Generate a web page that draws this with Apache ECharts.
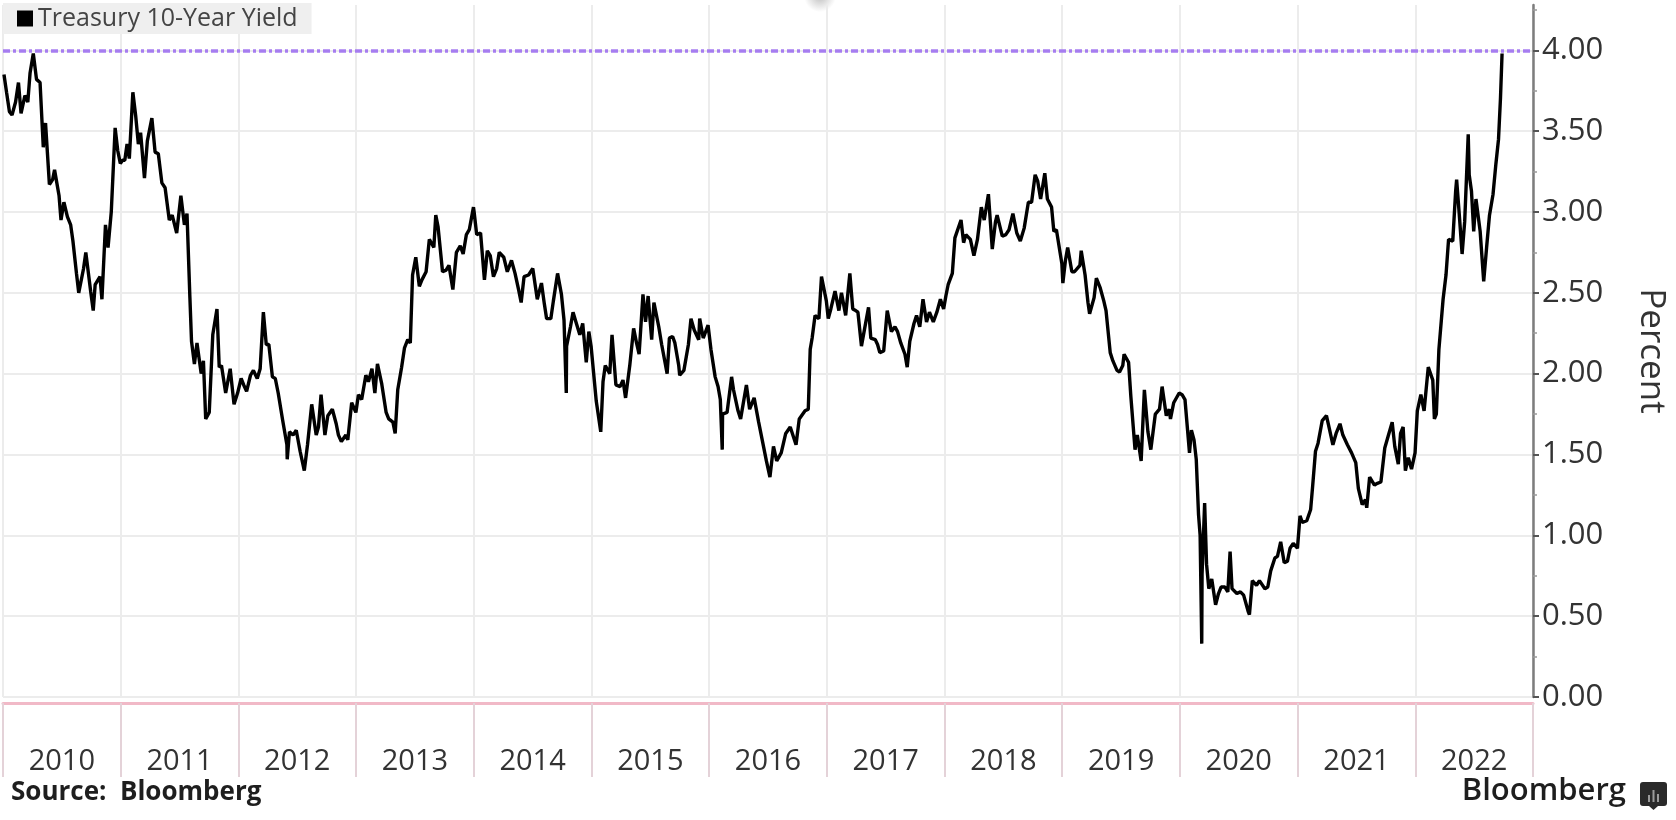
<!DOCTYPE html>
<html>
<head>
<meta charset="utf-8">
<script src="https://cdn.jsdelivr.net/npm/echarts@6/dist/echarts.min.js"></script>
<style>
html,body{margin:0;padding:0;background:#fff;}
#c{width:1676px;height:820px;}
</style>
</head>
<body>
<div id="c"></div>
<script>
// ---- data ----
const seriesName = 'Treasury 10-Year Yield';
const years = ['2010','2011','2012','2013','2014','2015','2016','2017','2018','2019','2020','2021','2022'];
const yTicks = [0, 0.5, 1, 1.5, 2, 2.5, 3, 3.5, 4];
const refLevel = 4.0;

const dates = [
'2010-01-04','2010-01-12','2010-01-21','2010-01-29','2010-02-09','2010-02-18','2010-02-26','2010-03-10','2010-03-19','2010-03-26','2010-04-05','2010-04-15','2010-04-26','2010-05-06','2010-05-13','2010-05-25','2010-06-04','2010-06-10','2010-06-24','2010-06-30','2010-07-09','2010-07-20','2010-07-30','2010-08-06','2010-08-17','2010-08-24','2010-09-08','2010-09-15','2010-09-30','2010-10-08','2010-10-14','2010-10-29','2010-11-04','2010-11-15','2010-11-23','2010-12-03','2010-12-15','2010-12-23','2010-12-31',
'2011-01-07','2011-01-14','2011-01-21','2011-01-28','2011-02-08','2011-02-17','2011-02-25','2011-03-04','2011-03-16','2011-03-25','2011-04-08','2011-04-18','2011-04-28','2011-05-09','2011-05-19','2011-06-01','2011-06-10','2011-06-24','2011-07-07','2011-07-18','2011-07-26','2011-08-04','2011-08-09','2011-08-18','2011-08-26','2011-09-08','2011-09-15','2011-09-22','2011-10-03','2011-10-14','2011-10-27','2011-11-03','2011-11-10','2011-11-23','2011-12-07','2011-12-19','2011-12-30',
'2012-01-10','2012-01-18','2012-01-27','2012-02-08','2012-02-17','2012-02-29','2012-03-09','2012-03-19','2012-03-28','2012-04-05','2012-04-16','2012-04-25','2012-05-04','2012-05-18','2012-05-31','2012-06-01','2012-06-08','2012-06-19','2012-06-29','2012-07-11','2012-07-24','2012-08-03','2012-08-16','2012-08-30','2012-09-06','2012-09-14','2012-09-26','2012-10-05','2012-10-19','2012-10-31','2012-11-07','2012-11-16','2012-11-30','2012-12-06','2012-12-18','2012-12-31',
'2013-01-08','2013-01-18','2013-01-31','2013-02-08','2013-02-19','2013-02-28','2013-03-08','2013-03-21','2013-04-04','2013-04-12','2013-04-25','2013-05-02','2013-05-10','2013-05-22','2013-05-31','2013-06-10','2013-06-18','2013-06-25','2013-07-05','2013-07-16','2013-07-24','2013-08-06','2013-08-16','2013-08-30','2013-09-05','2013-09-12','2013-09-26','2013-10-07','2013-10-16','2013-10-28','2013-11-08','2013-11-20','2013-11-29','2013-12-09','2013-12-18','2013-12-31',
'2014-01-02','2014-01-10','2014-01-22','2014-02-03','2014-02-12','2014-02-21','2014-03-03','2014-03-13','2014-03-21','2014-04-04','2014-04-15','2014-04-28','2014-05-09','2014-05-20','2014-05-28','2014-06-06','2014-06-12','2014-06-20','2014-07-03','2014-07-17','2014-07-30','2014-08-08','2014-08-15','2014-08-28','2014-09-05','2014-09-18','2014-09-30','2014-10-08','2014-10-15','2014-10-16','2014-10-28','2014-11-05','2014-11-14','2014-11-26','2014-12-05','2014-12-16','2014-12-24','2014-12-31',
'2015-01-08','2015-01-16','2015-01-30','2015-02-06','2015-02-13','2015-02-27','2015-03-06','2015-03-18','2015-03-31','2015-04-09','2015-04-17','2015-04-30','2015-05-12','2015-05-21','2015-05-29','2015-06-10','2015-06-18','2015-06-26','2015-07-07','2015-07-14','2015-07-29','2015-08-07','2015-08-24','2015-08-31','2015-09-10','2015-09-17','2015-09-29','2015-10-02','2015-10-15','2015-10-29','2015-11-06','2015-11-16','2015-11-30','2015-12-03','2015-12-14','2015-12-29',
'2016-01-07','2016-01-20','2016-01-29','2016-02-05','2016-02-11','2016-02-12','2016-02-26','2016-03-11','2016-03-17','2016-03-31','2016-04-08','2016-04-26','2016-05-06','2016-05-20','2016-06-03','2016-06-16','2016-06-27','2016-07-08','2016-07-19','2016-07-29','2016-08-12','2016-08-26','2016-09-09','2016-09-27','2016-10-07','2016-10-25','2016-11-04','2016-11-10','2016-11-16','2016-11-25','2016-12-07','2016-12-15','2016-12-30',
'2017-01-05','2017-01-13','2017-01-26','2017-02-07','2017-02-15','2017-02-28','2017-03-13','2017-03-22','2017-03-31','2017-04-07','2017-04-18','2017-04-28','2017-05-10','2017-05-17','2017-05-31','2017-06-07','2017-06-14','2017-06-26','2017-07-07','2017-07-20','2017-07-31','2017-08-08','2017-08-18','2017-08-31','2017-09-07','2017-09-15','2017-09-28','2017-10-06','2017-10-16','2017-10-26','2017-11-06','2017-11-15','2017-11-27','2017-12-08','2017-12-19','2017-12-29',
'2018-01-05','2018-01-12','2018-01-25','2018-02-02','2018-02-08','2018-02-21','2018-03-01','2018-03-08','2018-03-22','2018-04-02','2018-04-13','2018-04-25','2018-05-04','2018-05-17','2018-05-29','2018-06-08','2018-06-13','2018-06-29','2018-07-10','2018-07-20','2018-08-01','2018-08-13','2018-08-24','2018-09-05','2018-09-18','2018-09-28','2018-10-09','2018-10-17','2018-10-26','2018-11-08','2018-11-16','2018-11-29','2018-12-06','2018-12-14','2018-12-31',
'2019-01-03','2019-01-11','2019-01-18','2019-01-31','2019-02-08','2019-02-25','2019-03-01','2019-03-13','2019-03-22','2019-03-27','2019-04-10','2019-04-17','2019-04-29','2019-05-10','2019-05-17','2019-05-30','2019-06-07','2019-06-20','2019-06-28','2019-07-08','2019-07-12','2019-07-26','2019-08-02','2019-08-15','2019-08-22','2019-09-03','2019-09-13','2019-09-24','2019-10-03','2019-10-17','2019-10-30','2019-11-07','2019-11-20','2019-11-29','2019-12-03','2019-12-13','2019-12-30',
'2020-01-08','2020-01-17','2020-01-31','2020-02-06','2020-02-14','2020-02-21','2020-02-28','2020-03-04','2020-03-09','2020-03-10','2020-03-18','2020-03-24','2020-03-31','2020-04-09','2020-04-21','2020-04-30','2020-05-08','2020-05-20','2020-05-29','2020-06-05','2020-06-11','2020-06-26','2020-07-07','2020-07-17','2020-07-31','2020-08-04','2020-08-13','2020-08-26','2020-09-04','2020-09-21','2020-09-30','2020-10-09','2020-10-22','2020-10-30','2020-11-09','2020-11-20','2020-11-30','2020-12-08','2020-12-18','2020-12-31',
'2021-01-08','2021-01-15','2021-01-29','2021-02-10','2021-02-16','2021-02-25','2021-03-05','2021-03-18','2021-03-31','2021-04-09','2021-04-20','2021-04-30','2021-05-12','2021-05-21','2021-06-04','2021-06-17','2021-06-30','2021-07-08','2021-07-20','2021-07-30','2021-08-03','2021-08-12','2021-08-27','2021-09-03','2021-09-16','2021-09-28','2021-10-08','2021-10-21','2021-10-29','2021-11-09','2021-11-16','2021-11-24','2021-12-01','2021-12-10','2021-12-20','2021-12-31',
'2022-01-07','2022-01-18','2022-01-28','2022-02-10','2022-02-16','2022-02-24','2022-03-01','2022-03-07','2022-03-15','2022-03-28','2022-04-06','2022-04-14','2022-04-27','2022-05-06','2022-05-09','2022-05-17','2022-05-26','2022-06-03','2022-06-14','2022-06-17','2022-06-24','2022-07-01','2022-07-08','2022-07-21','2022-08-01','2022-08-10','2022-08-19','2022-08-30','2022-09-08','2022-09-16','2022-09-22','2022-09-27'
];

const yields = [
3.85,3.74,3.62,3.60,3.68,3.80,3.61,3.72,3.68,3.86,3.98,3.82,3.80,3.40,3.55,3.17,3.20,3.26,3.10,2.95,3.06,2.97,2.92,2.82,2.62,2.50,2.65,2.75,2.51,2.39,2.55,2.60,2.46,2.92,2.78,3.00,3.52,3.38,3.30,
3.32,3.32,3.42,3.33,3.74,3.59,3.42,3.49,3.21,3.44,3.58,3.37,3.36,3.18,3.15,2.95,2.98,2.87,3.10,2.92,2.99,2.47,2.20,2.06,2.19,2.00,2.08,1.72,1.76,2.24,2.40,2.04,2.05,1.88,2.03,1.81,1.88,
1.97,1.93,1.89,1.99,2.02,1.97,2.03,2.38,2.18,2.18,1.98,1.97,1.88,1.71,1.56,1.47,1.64,1.62,1.65,1.52,1.40,1.56,1.81,1.62,1.67,1.87,1.62,1.74,1.78,1.69,1.62,1.58,1.62,1.59,1.82,1.76,
1.87,1.84,1.99,1.95,2.03,1.88,2.06,1.94,1.76,1.72,1.70,1.63,1.90,2.04,2.16,2.21,2.19,2.61,2.72,2.54,2.58,2.63,2.83,2.78,2.98,2.91,2.63,2.64,2.67,2.52,2.75,2.79,2.74,2.86,2.89,3.03,
3.00,2.86,2.87,2.58,2.76,2.73,2.60,2.65,2.75,2.72,2.63,2.70,2.62,2.52,2.44,2.60,2.61,2.61,2.65,2.46,2.56,2.43,2.34,2.34,2.45,2.62,2.49,2.33,1.88,2.17,2.29,2.38,2.32,2.24,2.31,2.07,2.26,2.17,
2.00,1.83,1.64,1.95,2.05,2.00,2.24,1.93,1.92,1.96,1.85,2.05,2.28,2.19,2.12,2.49,2.32,2.48,2.21,2.44,2.29,2.18,2.00,2.22,2.23,2.19,2.05,1.99,2.02,2.18,2.34,2.27,2.21,2.34,2.22,2.30,
2.15,1.98,1.92,1.84,1.53,1.75,1.76,1.98,1.90,1.77,1.72,1.93,1.78,1.85,1.70,1.57,1.46,1.36,1.55,1.46,1.51,1.63,1.67,1.56,1.72,1.77,1.78,2.15,2.22,2.36,2.34,2.60,2.45,
2.34,2.40,2.51,2.39,2.50,2.36,2.62,2.40,2.39,2.38,2.17,2.28,2.41,2.22,2.21,2.18,2.13,2.14,2.39,2.26,2.29,2.26,2.19,2.12,2.04,2.20,2.31,2.36,2.29,2.46,2.32,2.38,2.32,2.38,2.46,2.40,
2.48,2.55,2.62,2.84,2.85,2.95,2.81,2.86,2.83,2.73,2.83,3.03,2.95,3.11,2.77,2.94,2.98,2.85,2.86,2.89,2.99,2.87,2.82,2.90,3.06,3.06,3.23,3.19,3.08,3.24,3.08,3.03,2.88,2.89,2.68,
2.56,2.70,2.78,2.63,2.63,2.67,2.76,2.61,2.44,2.37,2.47,2.59,2.53,2.45,2.39,2.13,2.08,2.02,2.01,2.05,2.12,2.07,1.86,1.53,1.62,1.46,1.90,1.64,1.53,1.75,1.78,1.92,1.74,1.78,1.72,1.82,1.88,
1.87,1.84,1.51,1.65,1.59,1.47,1.13,1.00,0.33,0.76,1.20,0.82,0.67,0.73,0.57,0.64,0.68,0.68,0.65,0.90,0.67,0.64,0.65,0.63,0.53,0.51,0.72,0.69,0.72,0.67,0.68,0.78,0.86,0.87,0.96,0.83,0.84,0.92,0.95,0.92,
1.12,1.08,1.09,1.16,1.30,1.52,1.57,1.71,1.74,1.66,1.56,1.63,1.69,1.62,1.56,1.51,1.45,1.29,1.19,1.22,1.17,1.36,1.31,1.32,1.33,1.54,1.61,1.70,1.55,1.44,1.63,1.67,1.40,1.48,1.41,1.51,
1.77,1.87,1.77,2.04,2.05,1.96,1.72,1.75,2.15,2.46,2.61,2.83,2.82,3.13,3.20,2.99,2.74,2.94,3.48,3.23,3.13,2.88,3.08,2.88,2.57,2.78,2.98,3.11,3.30,3.45,3.70,3.98
];

// ---- chart ----
const FONT = '"Open Sans", "Noto Sans", sans-serif';
const lineData = dates.map((d, i) => [d, yields[i]]);

const chart = echarts.init(document.getElementById('c'), null, {renderer: 'canvas'});
chart.setOption({
  animation: false,
  backgroundColor: '#ffffff',
  textStyle: {fontFamily: FONT},
  grid: {left: 3, right: 142, top: 5, bottom: 123, containLabel: false},
  legend: {
    data: [seriesName],
    left: 3, top: 3,
    icon: 'rect', itemWidth: 16, itemHeight: 16,
    backgroundColor: '#efefef',
    padding: [3, 14, 3, 14],
    textStyle: {fontSize: 25, color: '#444', fontFamily: FONT},
    selectedMode: false
  },
  xAxis: [
    {
      type: 'time', min: '2010-01-01', max: '2023-01-01',
      show: false
    },
    {
      type: 'category', data: years, boundaryGap: true, position: 'bottom', offset: 6,
      axisLine: {show: true, lineStyle: {color: '#f1b9c7', width: 3}},
      axisTick: {show: true, alignWithLabel: false, length: 74, lineStyle: {color: '#e4d2d8', width: 2}},
      axisLabel: {fontSize: 29, color: '#333', margin: 44, fontFamily: FONT},
      splitLine: {show: true, lineStyle: {color: '#ececec', width: 2}}
    }
  ],
  yAxis: {
    type: 'value', position: 'right', min: 0, max: 4.28, interval: 0.5,
    name: 'Percent', nameLocation: 'middle', nameRotate: -90, nameGap: 100,
    nameTextStyle: {fontSize: 35, color: '#333', fontFamily: FONT},
    axisLine: {show: true, lineStyle: {color: '#7d7d7d', width: 2.5}},
    axisTick: {show: true, length: 6, customValues: yTicks, lineStyle: {color: '#555', width: 2}},
    minorTick: {show: true, splitNumber: 2, length: 4, lineStyle: {color: '#999', width: 1.5}},
    axisLabel: {
      customValues: yTicks,
      fontSize: 31, color: '#333', margin: 9, fontFamily: FONT,
      formatter: v => v.toFixed(2)
    },
    splitLine: {show: true, lineStyle: {color: '#ececec', width: 2}}
  },
  series: [{
    name: seriesName,
    type: 'line',
    xAxisIndex: 0,
    data: lineData,
    showSymbol: false,
    symbol: 'none',
    itemStyle: {color: '#000'},
    lineStyle: {color: '#000', width: 3.4},
    markLine: {
      silent: true, symbol: 'none', label: {show: false},
      lineStyle: {color: '#a277f0', width: 3.5, type: [7, 3, 3, 3], opacity: 0.95},
      data: [{yAxis: refLevel}]
    },
    z: 3
  }],
  graphic: [
    {
      type: 'ellipse', shape: {cx: 820, cy: -4, rx: 210, ry: 16}, silent: true, z: -1,
      style: {fill: new echarts.graphic.RadialGradient(0.5, 0.5, 0.5, [
        {offset: 0, color: 'rgba(110,110,110,0.45)'}, {offset: 1, color: 'rgba(120,120,120,0)'}
      ])}
    },
    {
      type: 'text', left: 11, top: 780,
      style: {text: 'Source:  Bloomberg', font: 'bold 26px ' + FONT, fill: '#1e1e1e'}
    },
    {
      type: 'text', right: 50, top: 776,
      style: {text: 'Bloomberg', font: '600 31px ' + FONT, fill: '#1e1e1e'}
    },
    {
      type: 'group', left: 1640, top: 782,
      children: [
        {type: 'rect', shape: {x: 0, y: 0, width: 27, height: 24, r: 3}, style: {fill: '#2a2a2a'}},
        {type: 'polygon', shape: {points: [[9, 24], [18, 24], [13.5, 28]]}, style: {fill: '#2a2a2a'}},
        {type: 'rect', shape: {x: 8, y: 13, width: 2, height: 7}, style: {fill: '#9a9a9a'}},
        {type: 'rect', shape: {x: 12.5, y: 8, width: 2, height: 12}, style: {fill: '#9a9a9a'}},
        {type: 'rect', shape: {x: 17, y: 12, width: 2, height: 8}, style: {fill: '#9a9a9a'}}
      ]
    }
  ]
});
</script>
</body>
</html>
